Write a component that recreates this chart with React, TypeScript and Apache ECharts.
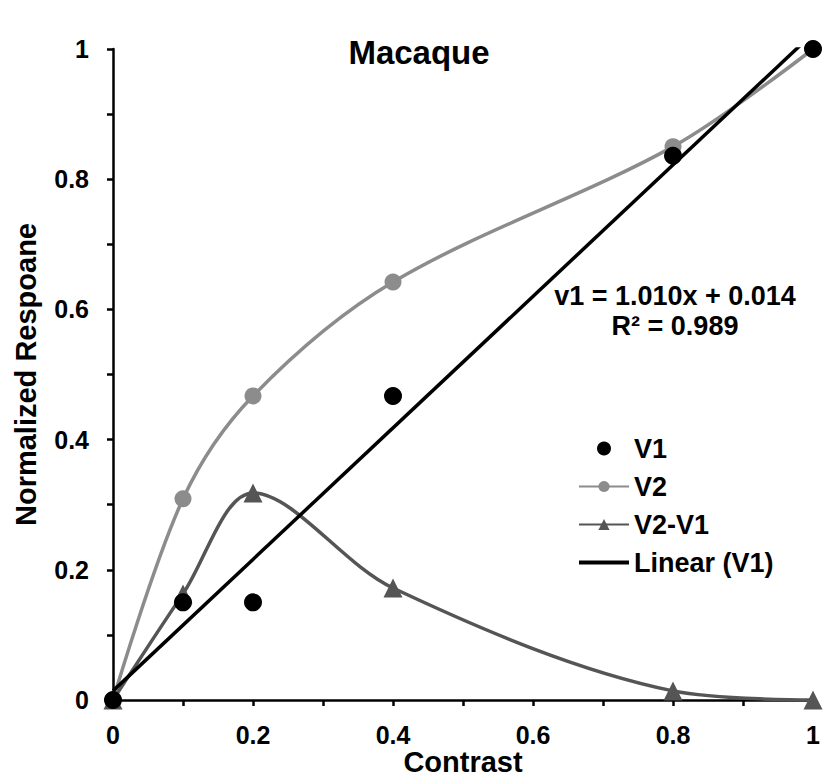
import React, { useEffect, useRef } from "react";
import * as echarts from "echarts";

const contrast = [0, 0.1, 0.2, 0.4, 0.8, 1];
const v1Values = [0, 0.15, 0.15, 0.467, 0.836, 1];
const v2Values = [0, 0.309, 0.467, 0.642, 0.85, 1];
const diffValues = [0, 0.163, 0.318, 0.172, 0.014, 0];
const slope = 1.01;
const intercept = 0.014;
const linearX = [0, 1];
const titleText = "Macaque";
const equationLines = ["v1 = 1.010x + 0.014", "R² = 0.989"];

const FONT = "Arial, 'Liberation Sans', Helvetica, sans-serif";

export default function App() {
  const ref = useRef<HTMLDivElement>(null);
  useEffect(() => {
    if (!ref.current) return;
    const chart = echarts.init(ref.current, undefined, { renderer: "svg" });
    const pairs = (ys: number[]) => contrast.map((x, i) => [x, ys[i]]);
    const linearData = linearX.map((x) => [x, slope * x + intercept]);
    const axisCommon = {
      type: "value" as const,
      min: 0,
      max: 1,
      interval: 0.2,
      splitLine: { show: false },
      axisLine: { show: true, lineStyle: { color: "#000", width: 2.5 } },
      axisTick: { show: true, inside: false, length: 6, lineStyle: { color: "#000", width: 2.5 } },
      minorTick: { show: true, splitNumber: 2, length: 6, lineStyle: { color: "#000", width: 2.5 } },
      axisLabel: { color: "#000", fontSize: 25, fontWeight: "bold" as const, fontFamily: FONT },
      nameTextStyle: { color: "#000", fontSize: 29, fontWeight: "bold" as const, fontFamily: FONT },
      nameLocation: "middle" as const,
      nameMoveOverlap: false,
    };
    chart.setOption({
      animation: false,
      backgroundColor: "#fff",
      grid: { left: 113, right: 13, top: 49, bottom: 78, containLabel: false, outerBoundsMode: "none" },
      xAxis: { ...axisCommon, name: "Contrast", nameGap: 47, axisLabel: { ...axisCommon.axisLabel, margin: 22 } },
      yAxis: { ...axisCommon, name: "Normalized Respoane", nameGap: 73, axisLabel: { ...axisCommon.axisLabel, margin: 24 } },
      legend: {
        orient: "vertical",
        left: 573,
        top: 430,
        itemWidth: 50,
        itemHeight: 14,
        itemGap: 11,
        textStyle: { color: "#000", fontSize: 27, fontWeight: "bold", fontFamily: FONT },
        data: [
          { name: "V1", icon: "circle" },
          "V2",
          "V2-V1",
          { name: "Linear (V1)", icon: "path://M0,0 H50 V4 H0 Z" },
        ],
      },
      graphic: [
        {
          type: "text",
          x: 419,
          y: 52,
          style: { text: titleText, fill: "#000", font: `bold 33px ${FONT}`, textAlign: "center", textVerticalAlign: "middle" },
        },
        {
          type: "text",
          x: 675,
          y: 296,
          style: { text: equationLines[0], fill: "#000", font: `bold 27px ${FONT}`, textAlign: "center", textVerticalAlign: "middle" },
        },
        {
          type: "text",
          x: 675,
          y: 326,
          style: { text: equationLines[1], fill: "#000", font: `bold 27px ${FONT}`, textAlign: "center", textVerticalAlign: "middle" },
        },
      ],
      series: [
        {
          name: "V2",
          type: "line",
          data: pairs(v2Values),
          smooth: 0.33,
          symbol: "circle",
          symbolSize: 17,
          itemStyle: { color: "#8c8c8c", opacity: 1 },
          lineStyle: { color: "#8c8c8c", width: 3.5 },
          z: 2,
        },
        {
          name: "V2-V1",
          type: "line",
          data: pairs(diffValues),
          smooth: 0.33,
          symbol: "triangle",
          symbolSize: 19,
          itemStyle: { color: "#555", opacity: 1 },
          lineStyle: { color: "#555", width: 3.5 },
          z: 3,
        },
        {
          name: "Linear (V1)",
          type: "line",
          data: linearData,
          symbol: "none",
          clip: true,
          itemStyle: { color: "#000" },
          lineStyle: { color: "#000", width: 3.5 },
          z: 4,
        },
        {
          name: "V1",
          type: "scatter",
          data: pairs(v1Values),
          symbol: "circle",
          symbolSize: 18,
          clip: false,
          itemStyle: { color: "#000", opacity: 1 },
          z: 5,
        },
      ],
    });
    return () => chart.dispose();
  }, []);
  return (
    <div
      ref={ref}
      style={{ position: "fixed", left: 0, top: 0, width: 826, height: 778, background: "#fff" }}
    />
  );
}
